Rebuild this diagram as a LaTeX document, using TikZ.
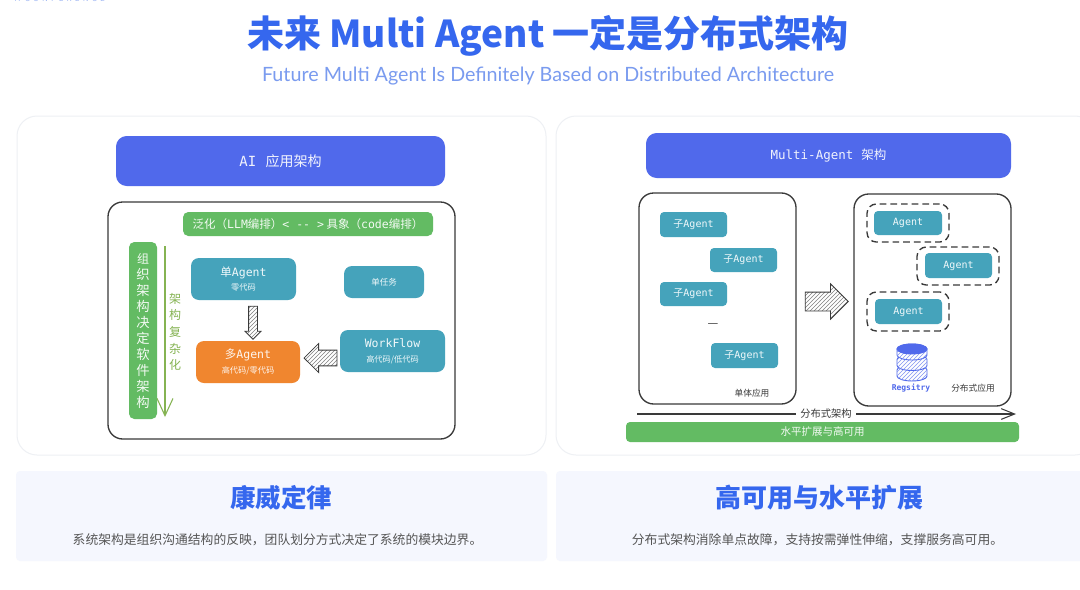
\documentclass[tikz,border=0pt]{standalone}
\usepackage{fontspec}
\usetikzlibrary{shapes.arrows,arrows.meta,patterns}
\setmainfont{Noto Sans CJK SC}
\newfontfamily\cjk{Noto Sans CJK SC}
\newfontfamily\latinsub{Lato}
\newfontfamily\monofam{DejaVu Sans Mono}
\newcommand{\mm}[1]{{\monofam #1}}
\newcommand{\fpx}[1]{\fontsize{\fpeval{#1*0.75}pt}{\fpeval{#1*0.9}pt}\selectfont}
\definecolor{barblue}{HTML}{5069EB}
\definecolor{tealbox}{HTML}{45A3BB}
\definecolor{greenbox}{HTML}{63BB63}
\definecolor{orangebox}{HTML}{F0862F}
\definecolor{titleblue}{HTML}{3567EE}
\definecolor{subblue}{HTML}{7A9BEF}
\definecolor{cardbg}{HTML}{F5F7FE}
\definecolor{panelline}{HTML}{EEF0F4}
\definecolor{arrowgreen}{HTML}{85B352}
\definecolor{linegray}{HTML}{3A3A3A}
\definecolor{bodygray}{HTML}{555555}
\tikzset{
  base/.style={inner sep=0pt,outer sep=0pt,align=center},
  panel/.style={base,draw=panelline,line width=0.75pt,rounded corners=15pt,fill=white},
  card/.style={base,fill=cardbg,rounded corners=3pt},
  blackbox/.style={base,draw=linegray,line width=1pt,rounded corners=11pt,fill=white},
  barbox/.style={base,fill=barblue,rounded corners=8pt,text=white!92!barblue},
  greenfill/.style={base,fill=greenbox,rounded corners=4pt,text=white!92!greenbox},
  tealfill/.style={base,fill=tealbox,rounded corners=6pt,text=white!92!tealbox},
  smallteal/.style={tealfill,rounded corners=3pt,font=\fpx{10}},
  orangefill/.style={base,fill=orangebox,rounded corners=6pt,text=white!92!orangebox},
  dashbox/.style={base,draw=linegray,line width=1pt,dash pattern=on 5pt off 3pt,rounded corners=7pt},
  hatcharrow/.style={single arrow,draw=linegray,line width=0.6pt,inner sep=0pt,outer sep=0pt,
    pattern={north east lines},pattern color=gray},
  lbl/.style={base,inner sep=0pt},
  disc/.style={fill=white,draw=barblue,line width=0.7pt,postaction={pattern=north east lines,pattern color=barblue!70}},
}
\newcommand{\bx}[7]{\node[#6,minimum width=\fpeval{(#4-#2)*0.75}pt,minimum height=\fpeval{(#5-#3)*0.75}pt]
  (#1) at (\fpeval{(#2+#4)/2},\fpeval{(#3+#5)/2}) {#7};}
\newcommand{\twoline}[2]{{\fpx{11.5}#1}\\[-1pt]{\fpx{8.2}#2}}
\begin{document}
\begin{tikzpicture}[x=0.75pt,y=-0.75pt]
\useasboundingbox (0,0) rectangle (1080,589);
\clip (0,0) rectangle (1080,589);
\fill[white] (0,0) rectangle (1080,589);
% headers
\node[lbl,text=subblue!70,font=\fpx{8}] (conf) at (60,-1) {\addfontfeatures{LetterSpace=40}A  CONFERENCE};
\node[lbl,text=titleblue,font=\fpx{37}\bfseries] (title) at (548,36) {未来 Multi Agent 一定是分布式架构};
\node[lbl,text=subblue,font=\fpx{19.7}\latinsub] (subtitle) at (548,76) {Future Multi Agent Is Definitely Based on Distributed Architecture};
% panels
\bx{lpanel}{17}{116}{546}{455}{panel}{}
\bx{rpanel}{556}{116}{1095}{455}{panel}{}
\bx{lcard}{16}{471}{547}{561}{card}{}
\bx{rcard}{556}{471}{1095}{561}{card}{}
\node[lbl,text=titleblue,font=\fpx{25.5}\bfseries] (lhead) at (281,498) {康威定律};
\node[lbl,text=titleblue,font=\fpx{26}\bfseries] (rhead) at (819.5,498) {高可用与水平扩展};
\node[lbl,text=bodygray,font=\fpx{12.8}] (lbody) at (277.5,539.5) {系统架构是组织沟通结构的反映，团队划分方式决定了系统的模块边界。};
\node[lbl,text=bodygray,font=\fpx{12.8}] (rbody) at (817.5,539.5) {分布式架构消除单点故障，支持按需弹性伸缩，支撑服务高可用。};
% left diagram
\bx{lbar}{116}{136}{445}{186}{barbox,font=\fpx{14}}{\mm{AI}\hspace{7pt}应用架构}
\bx{lbox}{108}{202}{455}{439}{blackbox}{}
\bx{gtop}{183}{212}{433}{236}{greenfill,font=\fpx{11.5}}{泛化（\mm{LLM}编排）\mm{< -- >} 具象（\mm{code}编排）}
\bx{gleft}{129}{242}{157}{419}{greenfill}{\fontsize{9pt}{11pt}\selectfont 组\\织\\架\\构\\决\\定\\软\\件\\架\\构}
\coordinate (ctop) at (165,246);
\coordinate (cbot) at (165,417);
\draw[arrowgreen,line width=0.8pt,-{Straight Barb[length=13pt,width=12pt]}] (ctop) -- (cbot);
\node[lbl,text=arrowgreen,font=\fontsize{9pt}{12.5pt}\selectfont] (lcomplex) at (175,332) {架\\构\\复\\杂\\化};
\bx{single}{191}{258}{296}{300}{tealfill}{\twoline{单\mm{Agent}}{零代码}}
\bx{task}{344}{266}{424}{298}{tealfill,font=\fpx{8.5}}{单任务}
\bx{multi}{196}{341}{300}{383}{orangefill}{\twoline{多\mm{Agent}}{高代码/零代码}}
\bx{flow}{340}{330}{445}{372}{tealfill}{\twoline{\mm{WorkFlow}}{高代码/低代码}}
\node[hatcharrow,inner xsep=3pt,minimum height=24.75pt,single arrow head extend=2.6pt,shape border rotate=270] (a1) at (253,320.5) {};
\node[hatcharrow,inner ysep=5.6pt,minimum height=24.75pt,single arrow head extend=5pt,shape border rotate=180] (a2) at (324.5,358) {};
% right diagram
\bx{rbar}{646}{133}{1011}{178}{barbox,font=\fpx{12.5}}{\mm{Multi-Agent}\hspace{6pt}架构}
\bx{mono}{639}{193}{796}{404}{blackbox}{}
\bx{dist}{854}{194}{1011}{406}{blackbox}{}
\bx{s1}{660}{212}{727}{237}{smallteal}{子\mm{Agent}}
\bx{s2}{710}{248}{777}{272}{smallteal}{子\mm{Agent}}
\bx{s3}{660}{282}{727}{306}{smallteal}{子\mm{Agent}}
\node[lbl,font=\fpx{12},text=linegray] (dots) at (713,326) {—};
\bx{s4}{711}{343}{778}{368}{smallteal}{子\mm{Agent}}
\node[lbl,font=\fpx{8.7},text=linegray] (monolbl) at (752,393) {单体应用};
\node[hatcharrow,inner ysep=6.75pt,minimum height=32.25pt,single arrow head extend=6.25pt,shape border rotate=0] (a3) at (822,301.5) {};
\bx{d1}{867}{204}{949}{242}{dashbox}{}
\bx{d2}{917}{247}{999}{285}{dashbox}{}
\bx{d3}{867}{292}{949}{331}{dashbox}{}
\bx{g1}{874}{211}{942}{235}{smallteal}{\mm{Agent}}
\bx{g2}{925}{253}{992}{278}{smallteal}{\mm{Agent}}
\bx{g3}{875}{299}{942}{324}{smallteal}{\mm{Agent}}
% registry
\foreach \tt in {370,359.5,349}{
  \path[disc] (897,\tt) -- (897,\tt+6) arc[start angle=180,end angle=0,x radius=15,y radius=5]
    -- (927,\tt) arc[start angle=0,end angle=-180,x radius=15,y radius=5] -- cycle;
}
\fill[barblue,draw=barblue,line width=0.7pt] (912,349) ellipse[x radius=15,y radius=5];
\node[lbl,text=barblue,font=\fpx{8}\monofam\bfseries] (reg) at (911,388) {Regsitry};
\node[lbl,font=\fpx{8.7},text=linegray] (distlbl) at (973,388) {分布式应用};
\coordinate (lineL) at (637,414);
\coordinate (lineR) at (1016,414);
\draw[linegray,line width=0.8pt,-{Straight Barb[length=10pt,width=8pt]}] (lineL) -- (lineR);
\node[lbl,fill=white,inner xsep=3pt,font=\fpx{10.3},text=linegray] (archlbl) at (826,414) {分布式架构};
\bx{hbar}{626}{422}{1019}{442}{greenfill,rounded corners=3pt,font=\fpx{10.5}}{水平扩展与高可用}
\end{tikzpicture}
\end{document}
